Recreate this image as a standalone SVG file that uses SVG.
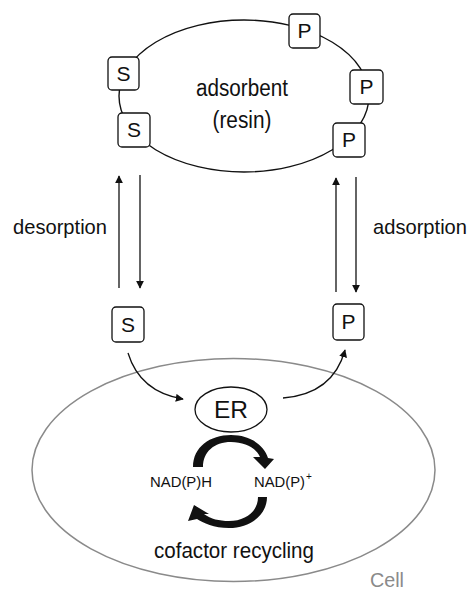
<svg xmlns="http://www.w3.org/2000/svg" width="473" height="592" viewBox="0 0 473 592">
<style>
text{font-family:"Liberation Sans",Arial,sans-serif;fill:#111}
.box rect{fill:#fff;stroke:#111;stroke-width:1.3}
.box text{font-size:21px;text-anchor:middle}
.thin{fill:none;stroke:#111;stroke-width:1.3}
.lbl{font-size:23px}
.side{font-size:21px}
.grey{fill:#8a8a8a}
</style>
<defs>
<marker id="ah" viewBox="0 0 10 10" refX="9" refY="5" markerWidth="8" markerHeight="8" markerUnits="userSpaceOnUse" orient="auto">
<path d="M0,0 L10,5 L0,10 Z" fill="#111"/>
</marker>
</defs>
<rect width="473" height="592" fill="#fff"/>

<g id="cell">
<ellipse cx="233.5" cy="470" rx="201.5" ry="111.5" fill="none" stroke="#8a8a8a" stroke-width="1.5"/>
<text x="370" y="587" font-size="21" class="grey" textLength="34" lengthAdjust="spacingAndGlyphs">Cell</text>
</g>

<g id="resin">
<ellipse cx="244" cy="96" rx="125" ry="76" fill="none" stroke="#111" stroke-width="1.4"/>
<text x="242" y="96" class="lbl" text-anchor="middle" textLength="92" lengthAdjust="spacingAndGlyphs">adsorbent</text>
<text x="242" y="128" class="lbl" text-anchor="middle" textLength="59" lengthAdjust="spacingAndGlyphs">(resin)</text>
</g>

<g id="resin-S1" class="box"><rect x="108" y="57" width="31" height="33" rx="4"/><text x="123.5" y="81">S</text></g>
<g id="resin-S2" class="box"><rect x="118" y="113" width="32" height="34" rx="4"/><text x="134" y="137">S</text></g>
<g id="resin-P1" class="box"><rect x="289" y="14" width="31" height="34" rx="4"/><text x="304.5" y="38">P</text></g>
<g id="resin-P2" class="box"><rect x="350" y="70" width="33" height="34" rx="4"/><text x="366.5" y="94">P</text></g>
<g id="resin-P3" class="box"><rect x="333" y="123" width="32" height="34" rx="4"/><text x="349" y="147">P</text></g>

<g id="S" class="box"><rect x="112" y="307" width="32" height="35" rx="4"/><text x="128" y="332">S</text></g>
<g id="P" class="box"><rect x="333" y="304" width="31" height="36" rx="4"/><text x="348.5" y="329">P</text></g>

<g id="desorption-label"><text x="13" y="234" class="side" textLength="94" lengthAdjust="spacingAndGlyphs">desorption</text></g>
<g id="adsorption-label"><text x="373" y="234" class="side" textLength="94" lengthAdjust="spacingAndGlyphs">adsorption</text></g>

<g id="ER">
<ellipse cx="231" cy="409.5" rx="36" ry="22.5" fill="none" stroke="#111" stroke-width="1.3"/>
<text x="231" y="418" font-size="23" text-anchor="middle" textLength="34" lengthAdjust="spacingAndGlyphs">ER</text>
</g>

<g id="NADPH"><text x="150" y="487" font-size="15" textLength="62" lengthAdjust="spacingAndGlyphs">NAD(P)H</text></g>
<g id="NADP"><text x="254" y="487" font-size="15" textLength="51" lengthAdjust="spacingAndGlyphs">NAD(P)</text><text x="306" y="480" font-size="10">+</text></g>
<g id="cofactor-label"><text x="154" y="558" font-size="22" textLength="160" lengthAdjust="spacingAndGlyphs">cofactor recycling</text></g>

<g id="connectors">
<line class="thin" x1="119" y1="288" x2="119" y2="176" marker-end="url(#ah)"/>
<line class="thin" x1="140" y1="175" x2="140" y2="288" marker-end="url(#ah)"/>
<line class="thin" x1="336" y1="292" x2="336" y2="178" marker-end="url(#ah)"/>
<line class="thin" x1="356" y1="177" x2="356" y2="292" marker-end="url(#ah)"/>
<path class="thin" d="M128,353 Q140,392 183,399" marker-end="url(#ah)"/>
<path class="thin" d="M283,398 Q333,394 345,350" marker-end="url(#ah)"/>
<path d="M193,467 C193,447 210,435 231,435 C250,435 264,445 268,458 L274,459 L265,469 L253,457 L260,457 C256,448 245,442 231,442 C214,442 203,452 203,467 Z" fill="#111"/>
<path d="M267,497 C267,515 250,528 229,528 C214,528 203,523 197,519 L188,521 L194,505 L209,514 L204,514 C211,519 219,521 229,521 C245,521 258,512 258,497 Z" fill="#111"/>
</g>
</svg>
